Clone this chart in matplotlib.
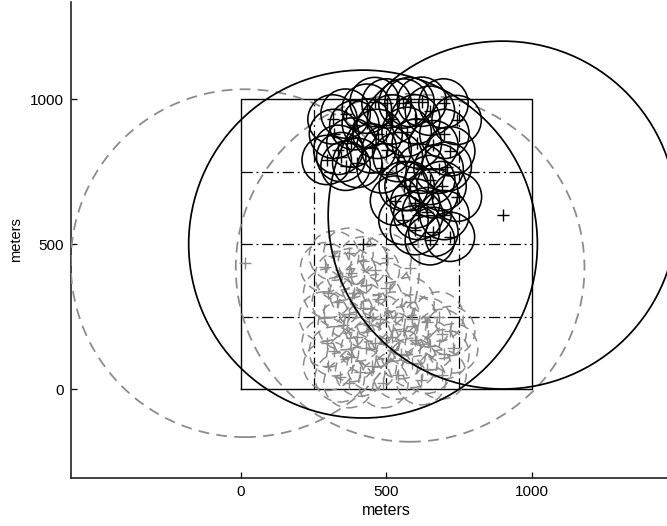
import matplotlib
matplotlib.use("Agg")
import matplotlib.pyplot as plt
from matplotlib.patches import Circle

plt.rcParams['font.family'] = ['Liberation Sans', 'DejaVu Sans']

# Region of interest and its 4x4 partition
field_size = 1000
grid_lines = [250, 500, 750]

# Detection range of the small sensors and the coverage radius of the hubs
sensor_radius = 85
hub_radius = 600

# Hubs (large circles): solid black and dashed gray
black_hub_x = [420, 900]
black_hub_y = [500, 600]
gray_hub_x = [14, 582]
gray_hub_y = [434, 418]

# Sensors attached to the black hubs
black_x = [295, 315, 320, 335, 345, 360, 380, 390, 400, 360,
           433, 433, 460, 501, 501, 484, 470, 520, 450, 540,
           559, 580, 622, 650, 697, 742, 570, 605, 662, 700, 720, 600,
           708, 651, 662, 743, 599, 620, 560, 680, 530, 580, 690,
           559, 599, 662, 719, 650, 610, 700, 640]
black_y = [790, 930, 880, 825, 800, 770, 850, 910, 780, 950,
           967, 916, 990, 985, 824, 761, 880, 930, 830, 800,
           985, 990, 991, 960, 985, 928, 887, 847, 841, 880, 820, 930,
           767, 721, 675, 663, 640, 760, 700, 760, 650, 700, 700,
           583, 548, 542, 525, 513, 600, 600, 610]

# Sensors attached to the gray hubs
gray_x = [290, 300, 285, 295, 300, 320, 340, 330, 350, 320, 340,
          370, 380, 390, 370, 400, 380, 370, 420, 430, 420, 440,
          430, 410, 460, 470, 480, 460, 450, 501, 500, 490,
          530, 560, 550, 540, 590, 600, 590, 620, 640, 650, 640,
          680, 690, 700, 690, 720, 730, 580, 520]
gray_y = [420, 330, 250, 160, 80, 460, 390, 300, 220, 130, 40,
          470, 400, 330, 260, 180, 110, 20, 440, 360, 280, 220,
          140, 60, 410, 310, 240, 160, 80, 451, 350, 20,
          250, 200, 120, 50, 240, 170, 90, 30, 230, 150, 70,
          250, 190, 120, 50, 200, 140, 300, 180]

W, H = 667, 526
fig = plt.figure(figsize=(W / 100, H / 100), dpi=100)
ax = fig.add_axes([71 / W, 48 / H, 630 / W, 476 / H])
ax.set_xlim(-585, 1583)
ax.set_ylim(-307, 1335)

gray = '#8c8c8c'
dash = (0, (6, 4))
dashdot = (0, (9, 3, 1.5, 3))

# Field boundary and partition
ax.plot([0, field_size, field_size, 0, 0], [0, 0, field_size, field_size, 0],
        color='black', lw=1.0, zorder=2)
for g in grid_lines:
    ax.plot([g, g], [0, field_size], color='black', lw=0.9,
            linestyle=dashdot, zorder=2)
    ax.plot([0, field_size], [g, g], color='black', lw=0.9,
            linestyle=dashdot, zorder=2)

# Gray sensors and hubs
for x, y in zip(gray_x, gray_y):
    ax.add_patch(Circle((x, y), sensor_radius, fill=False, edgecolor=gray,
                        lw=1.1, linestyle=dash, zorder=3))
for x, y in zip(gray_hub_x, gray_hub_y):
    ax.add_patch(Circle((x, y), hub_radius, fill=False, edgecolor=gray,
                        lw=1.3, linestyle=dash, zorder=3))
ax.plot(gray_x + gray_hub_x, gray_y + gray_hub_y, linestyle='none', marker='+',
        color=gray, ms=8, mew=1.0, zorder=4)

# Black sensors and hubs
for x, y in zip(black_x, black_y):
    ax.add_patch(Circle((x, y), sensor_radius, fill=False, edgecolor='black',
                        lw=1.15, zorder=5))
for x, y in zip(black_hub_x, black_hub_y):
    ax.add_patch(Circle((x, y), hub_radius, fill=False, edgecolor='black',
                        lw=1.25, zorder=5))
ax.plot(black_x + black_hub_x, black_y + black_hub_y, linestyle='none',
        marker='+', color='black', ms=8, mew=1.0, zorder=6)

# Axes styling
for s in ('top', 'right'):
    ax.spines[s].set_visible(False)
for s in ('left', 'bottom'):
    ax.spines[s].set_linewidth(1.2)
    ax.spines[s].set_color('#222222')
ax.set_xticks([0, 500, 1000])
ax.set_yticks([0, 500, 1000])
ax.tick_params(direction='in', length=4, width=0.9, labelsize=11, pad=5)
ax.set_xlabel('meters', fontsize=11.5, labelpad=3)
ax.set_ylabel('meters', fontsize=10.5)
ax.yaxis.set_label_coords(-0.076, 0.5)

fig.savefig('out.png', dpi=100)
